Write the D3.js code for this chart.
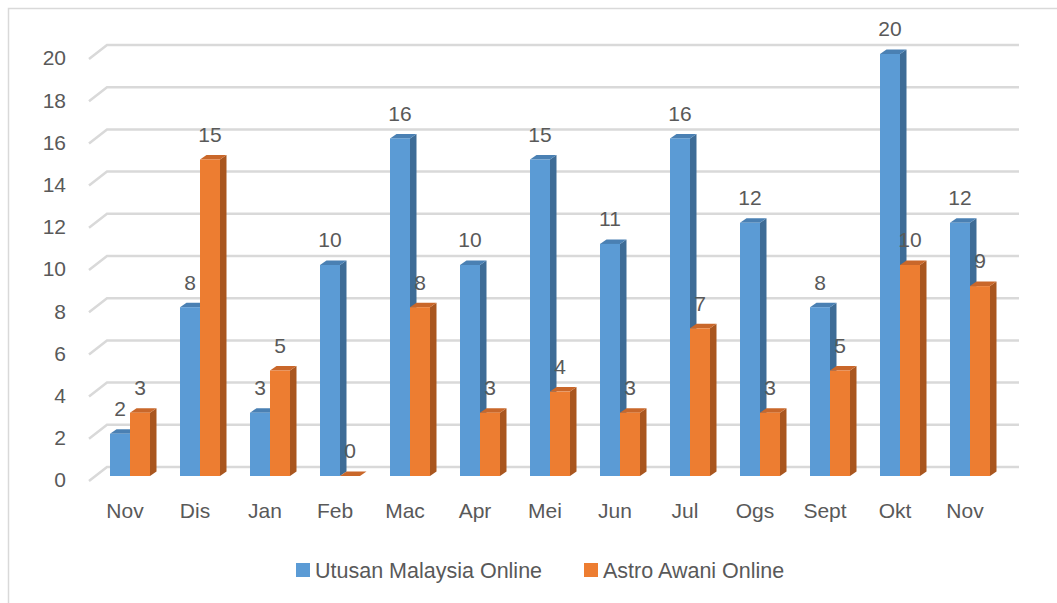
<!DOCTYPE html>
<html>
<head>
<meta charset="utf-8">
<script src="https://cdn.jsdelivr.net/npm/d3@7"></script>
<style>
  body { margin: 0; background: #fff; }
  text { font-family: "Liberation Sans", Arial, sans-serif; fill: #595959; }
</style>
</head>
<body>
<div id="chart"></div>
<script>
var months = ["Nov", "Dis", "Jan", "Feb", "Mac", "Apr", "Mei", "Jun", "Jul", "Ogs", "Sept", "Okt", "Nov"];
var utusan = [2, 8, 3, 10, 16, 10, 15, 11, 16, 12, 8, 20, 12];
var awani = [3, 15, 5, 0, 8, 3, 4, 3, 7, 3, 5, 10, 9];
var seriesNames = ["Utusan Malaysia Online", "Astro Awani Online"];
var yTicks = [0, 2, 4, 6, 8, 10, 12, 14, 16, 18, 20];

var colors = [
  {front: "#5b9bd5", side: "#3e6c96", top: "#4a80b3"},
  {front: "#ed7d31", side: "#a9561f", top: "#c9672a"}
];

var W = 1057, H = 603;
var dx = 6.5, dy = -4.5; // bar depth

var svg = d3.select("#chart").append("svg")
    .attr("width", W)
    .attr("height", H);

// chart border
svg.append("rect")
    .attr("x", 8.5).attr("y", 8.5)
    .attr("width", W + 10).attr("height", H + 10)
    .attr("fill", "none").attr("stroke", "#d9d9d9").attr("stroke-width", 1.5);

var yScale = d3.scaleLinear().domain([0, 20]).range([476, 54]);
var xScale = d3.scaleBand().domain(d3.range(months.length))
    .range([95, 95 + 70 * months.length])
    .paddingInner(30 / 70).paddingOuter(15 / 70);
var xInner = d3.scaleBand().domain([0, 1]).range([0, xScale.bandwidth()]);

// gridlines on the back wall, with the floor diagonal on the left
var grid = svg.append("g");
yTicks.forEach(function(v) {
  var y = yScale(v);
  grid.append("path")
      .attr("d", "M89," + (y + 5) + "L107," + (y - 9) + "L1019," + (y - 9))
      .attr("fill", "none").attr("stroke", "#d9d9d9").attr("stroke-width", 2.5);
  grid.append("text")
      .attr("x", 66).attr("y", y + 4)
      .attr("dy", "0.35em")
      .attr("text-anchor", "end")
      .style("font-size", "21px")
      .text(v);
});

// category labels
svg.append("g").selectAll("text")
    .data(months)
    .enter().append("text")
    .attr("x", function(d, i) { return xScale(i) + xScale.bandwidth() / 2 - 5; })
    .attr("y", 511)
    .attr("dy", "0.35em")
    .attr("text-anchor", "middle")
    .style("font-size", "21px")
    .text(function(d) { return d; });

var data = [utusan, awani];
var bars = svg.append("g");
months.forEach(function(m, i) {
  data.forEach(function(series, s) {
    var x0 = xScale(i) + xInner(s);
    var x1 = x0 + xInner.bandwidth();
    var yTop = yScale(series[i]);
    var yBot = yScale(0);
    var c = colors[s];
    // side face
    bars.append("path")
        .attr("d", "M" + x1 + "," + yTop + "L" + (x1 + dx) + "," + (yTop + dy) +
             "L" + (x1 + dx) + "," + (yBot + dy) + "L" + x1 + "," + yBot + "Z")
        .attr("fill", c.side);
    // top face
    bars.append("path")
        .attr("d", "M" + x0 + "," + yTop + "L" + (x0 + dx) + "," + (yTop + dy) +
             "L" + (x1 + dx) + "," + (yTop + dy) + "L" + x1 + "," + yTop + "Z")
        .attr("fill", c.top);
    // front face
    bars.append("rect")
        .attr("x", x0).attr("y", yTop)
        .attr("width", xInner.bandwidth())
        .attr("height", yBot - yTop)
        .attr("fill", c.front);
  });
});

// data labels
data.forEach(function(series, s) {
  svg.append("g").selectAll("text")
      .data(series)
      .enter().append("text")
      .attr("x", function(d, i) { return xScale(i) + xInner(s) + xInner.bandwidth() / 2; })
      .attr("y", function(d) { return yScale(d) - 25; })
      .attr("dy", "0.35em")
      .attr("text-anchor", "middle")
      .style("font-size", "21px")
      .text(function(d) { return d; });
});

// legend
var legend = svg.append("g");
var legendX = [296, 584];
seriesNames.forEach(function(name, s) {
  legend.append("rect")
      .attr("x", legendX[s]).attr("y", 563)
      .attr("width", 14).attr("height", 14)
      .attr("fill", colors[s].front);
  legend.append("text")
      .attr("x", legendX[s] + 19).attr("y", 570)
      .attr("dy", "0.35em")
      .style("font-size", "21.5px")
      .text(name);
});
</script>
</body>
</html>
